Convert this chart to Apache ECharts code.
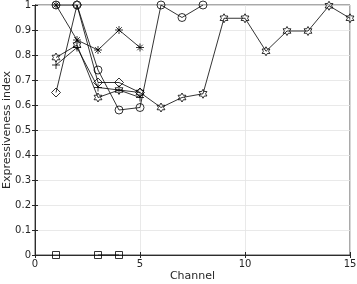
<!DOCTYPE html>
<html><head><meta charset="utf-8">
<script src="https://cdn.jsdelivr.net/npm/echarts@6/dist/echarts.min.js"></script>
<style>html,body{margin:0;padding:0;background:#fff}#c{width:357px;height:284px}</style>
</head><body><div id="c"></div>
<script>
var channels = [1,2,3,4,5,6,7,8,9,10,11,12,13,14,15];
var circleVals   = [1.00, 1.00, 0.74, 0.58, 0.59, 1.00, 0.95, 1.00];
var hexVals      = [0.79, 0.84, 0.63, 0.66, 0.65, 0.59, 0.63, 0.645, 0.947, 0.947, 0.815, 0.896, 0.896, 0.997, 0.947];
var asteriskVals = [1.00, 0.86, 0.82, 0.90, 0.83];
var plusVals     = [0.76, 0.83, 0.67, 0.66, 0.63];
var diamondVals  = [0.65, 1.00, 0.69, 0.69, 0.65];
var squareVals   = [0, null, 0, 0];

var P = {
  circle: 'path://M10,5A5,5,0,1,1,0,5A5,5,0,1,1,10,5Z',
  hex: 'path://M5,0L6.443,2.5L9.33,2.5L7.887,5L9.33,7.5L6.443,7.5L5,10L3.557,7.5L0.67,7.5L2.113,5L0.67,2.5L3.557,2.5Z',
  asterisk: 'path://M5,0L5,10M0,5L10,5M1.5,1.5L8.5,8.5M8.5,1.5L1.5,8.5',
  plus: 'path://M5,0L5,10M0,5L10,5',
  diamond: 'path://M5,0L10,5L5,10L0,5Z',
  square: 'path://M0,0L10,0L10,10L0,10Z'
};
function pairs(vals){ return vals.map(function(v,i){ return [channels[i], v]; }); }
function mk(vals, sym, size){
  return {type:'line', data: pairs(vals), symbol: sym, symbolSize: size, symbolKeepAspect:true,
    showAllSymbol:true, connectNulls:false, animation:false,
    lineStyle:{color:'#000', width:0.8},
    itemStyle:{color:'transparent', borderColor:'#000', borderWidth:0.8}};
}
var axisCol = '#262626';
var chart = echarts.init(document.getElementById('c'));
chart.setOption({
  animation:false,
  grid:{left:35, right:7, top:5, bottom:29, containLabel:false, outerBoundsMode:'none', show:true, borderColor:axisCol, borderWidth:0.8, backgroundColor:'#fff'},
  xAxis:[{type:'value', min:0, max:15, interval:5, name:'Channel', nameLocation:'middle', nameGap:16, nameMoveOverlap:false,
    nameTextStyle:{fontSize:11, color:axisCol, fontFamily:'DejaVu Sans'},
    axisLine:{lineStyle:{color:axisCol, width:0.8}}, axisTick:{inside:true, length:3, lineStyle:{color:axisCol}},
    axisLabel:{fontSize:10, color:axisCol, margin:4, fontFamily:'DejaVu Sans'},
    splitLine:{show:true, lineStyle:{color:'#e3e3e3', width:0.8}}},
   {type:'value', position:'top', min:0, max:15, interval:5, axisLine:{show:true, lineStyle:{color:axisCol, width:0.8}},
    axisTick:{inside:true, length:3, lineStyle:{color:axisCol}}, axisLabel:{show:false}, splitLine:{show:false}}],
  yAxis:[{type:'value', min:0, max:1, interval:0.1, name:'Expressiveness index', nameLocation:'middle', nameGap:22, nameMoveOverlap:false,
    nameTextStyle:{fontSize:11, color:axisCol, fontFamily:'DejaVu Sans'},
    axisLine:{show:true, lineStyle:{color:axisCol, width:0.8}}, axisTick:{show:true, inside:true, length:3, lineStyle:{color:axisCol}},
    axisLabel:{fontSize:10, color:axisCol, margin:4, fontFamily:'DejaVu Sans', formatter:function(v){return String(+v.toFixed(1));}},
    splitLine:{show:true, lineStyle:{color:'#e3e3e3', width:0.8}}},
   {type:'value', position:'right', min:0, max:1, interval:0.1, axisLine:{show:true, lineStyle:{color:axisCol, width:0.8}},
    axisTick:{show:true, inside:true, length:3, lineStyle:{color:axisCol}}, axisLabel:{show:false}, splitLine:{show:false}}],
  series:[
    mk(circleVals, P.circle, 8),
    mk(hexVals, P.hex, 9),
    mk(asteriskVals, P.asterisk, 8),
    mk(plusVals, P.plus, 8),
    mk(diamondVals, P.diamond, 9),
    mk(squareVals, P.square, 7)
  ]
});
</script></body></html>
